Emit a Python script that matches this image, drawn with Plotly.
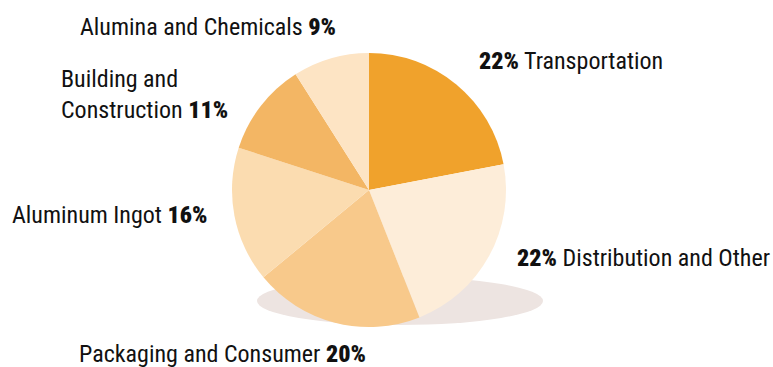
import plotly.graph_objects as go

# Shipments by end market (share of total, %)
markets = [
    "Transportation",
    "Distribution and Other",
    "Packaging and Consumer",
    "Aluminum Ingot",
    "Building and Construction",
    "Alumina and Chemicals",
]
shares = [22, 22, 20, 16, 11, 9]
slice_colors = ["#F0A22C", "#FDEDD9", "#F8C98B", "#FBDCB0", "#F3B664", "#FDE4C4"]

W, H = 773, 367
cx, cy, r = 369, 190, 137  # pie centre and radius in pixels


def px_x(x):
    return x / W


def px_y(y):
    return 1 - y / H


def pct(v):
    return f'<span style="font-weight:900">{v}%</span>'


fig = go.Figure(
    go.Pie(
        labels=markets,
        values=shares,
        sort=False,
        direction="clockwise",
        rotation=0,
        marker=dict(colors=slice_colors, line=dict(width=0)),
        textinfo="none",
        hoverinfo="label+percent",
        showlegend=False,
        domain=dict(x=[px_x(cx - r), px_x(cx + r)], y=[px_y(cy + r), px_y(cy - r)]),
    )
)

# soft drop shadow under the pie
fig.add_shape(
    type="circle",
    xref="paper",
    yref="paper",
    x0=px_x(257),
    x1=px_x(543),
    y0=px_y(325),
    y1=px_y(277),
    fillcolor="#EDE4E1",
    line=dict(width=0),
    layer="below",
)

label_font = dict(family="Roboto Condensed, Liberation Sans Narrow, sans-serif", size=24, color="#111111")

# label text, left x and vertical centre (pixels)
label_specs = [
    (f"Alumina and Chemicals {pct(shares[5])}", 78, 27),
    (f"Building and<br>Construction {pct(shares[4])}", 59, 95),
    (f"Aluminum Ingot {pct(shares[3])}", 10, 215),
    (f"Packaging and Consumer {pct(shares[2])}", 77, 354),
    (f"{pct(shares[0])} Transportation", 477, 61),
    (f"{pct(shares[1])} Distribution and Other", 515, 258),
]

for text, x, y in label_specs:
    fig.add_annotation(
        text=text,
        xref="paper",
        yref="paper",
        x=px_x(x),
        y=px_y(y),
        xanchor="left",
        yanchor="middle",
        align="left",
        showarrow=False,
        font=label_font,
    )

fig.update_layout(
    width=W,
    height=H,
    margin=dict(l=0, r=0, t=0, b=0),
    paper_bgcolor="white",
    plot_bgcolor="white",
)

fig.write_html("out.html")
